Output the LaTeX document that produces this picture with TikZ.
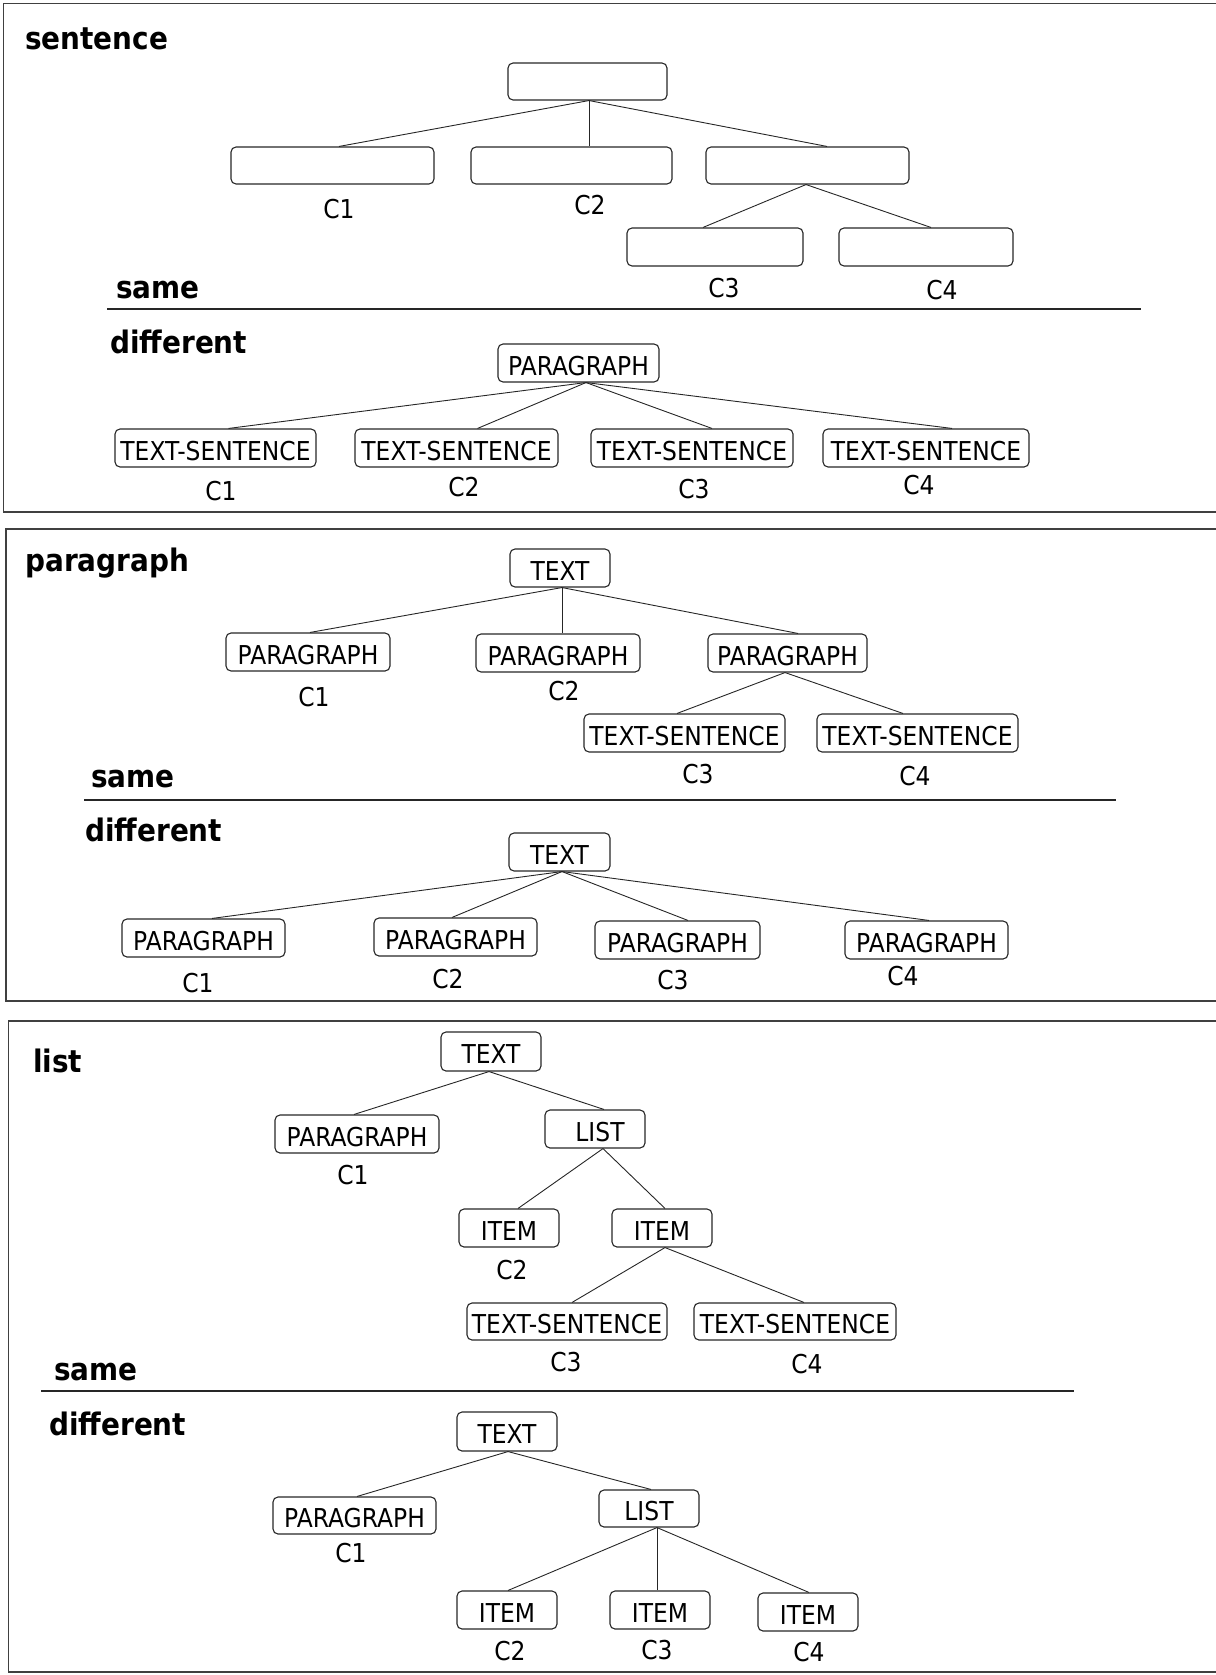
\documentclass[tikz,border=0pt]{standalone}
\usepackage{fontspec}
\setmainfont{DejaVu Sans}[FakeStretch=0.9]
\usetikzlibrary{positioning, calc}

\begin{document}
\begin{tikzpicture}[
            x=1pt, y=-1pt,
            box/.style={draw=black!85, rounded corners=5pt, line width=1.1pt, inner sep=0pt,
                        text height=24pt, text depth=0pt,
                        minimum height=38pt, font=\fontsize{26}{30}\selectfont},
            lab/.style={inner sep=0pt, font=\fontsize{26}{30}\selectfont},
            head/.style={inner sep=0pt, anchor=base west, font=\fontsize{31}{35}\selectfont\bfseries},
            link/.style={draw=black!85, line width=0.9pt},
            frame/.style={draw=black!75, line width=1.4pt},
            sep/.style={draw=black!85, line width=1.1pt}
            ]
        \useasboundingbox (0,0) rectangle (1215,1675);

        % Riquadri
        \draw[frame] (1216,3.5) -- (3.5,3.5) -- (3.5,512) -- (1216,512);
        \draw[frame] (1216,529) -- (6,529) -- (6,1001) -- (1216,1001);
        \draw[frame] (1216,1021) -- (8.5,1021) -- (8.5,1672) -- (1216,1672);

        % sentence
        \node[head] (hs) at (25,50) {sentence};
        \node[box, minimum width=159pt, minimum height=37pt] (s0) at (587.5,81.5) {};
        \node[box, minimum width=203pt, minimum height=37pt] (s1) at (332.5,165.5) {};
        \node[box, minimum width=201pt, minimum height=37pt] (s2) at (571.5,165.5) {};
        \node[box, minimum width=203pt, minimum height=37pt] (s3) at (807.5,165.5) {};
        \node[box, minimum width=176pt] (s4) at (715,247) {};
        \node[box, minimum width=174pt] (s5) at (926,247) {};
        \node[lab] (sc1) at (339,209) {C1};
        \node[lab] (sc2) at (590,205) {C2};
        \node[lab] (sc3) at (724,288) {C3};
        \node[lab] (sc4) at (942,290) {C4};
        \node[head] (hs1) at (116,298) {same};
        \coordinate (sl1) at (107,309);
        \coordinate (sl2) at (1141,309);
        \draw[sep] (sl1) -- (sl2);

        \node[head] (hs2) at (110,353) {different};
        \node[box, minimum width=161pt] (t0) at (578.5,363) {PARAGRAPH};
        \node[box, minimum width=201pt] (t1) at (215.5,448) {TEXT-SENTENCE};
        \node[box, minimum width=203pt] (t2) at (456.5,448) {TEXT-SENTENCE};
        \node[box, minimum width=202pt] (t3) at (692,448) {TEXT-SENTENCE};
        \node[box, minimum width=206pt] (t4) at (926,448) {TEXT-SENTENCE};
        \node[lab] (tc1) at (221,491) {C1};
        \node[lab] (tc2) at (464,487) {C2};
        \node[lab] (tc3) at (694,489) {C3};
        \node[lab] (tc4) at (919,485) {C4};

        % paragraph
        \node[head] (hp) at (25,571) {paragraph};
        \node[box, minimum width=100pt] (p0) at (560,568) {TEXT};
        \node[box, minimum width=164pt] (p1) at (308,652) {PARAGRAPH};
        \node[box, minimum width=164pt] (p2) at (558,653) {PARAGRAPH};
        \node[box, minimum width=159pt] (p3) at (787.5,653) {PARAGRAPH};
        \node[box, minimum width=201pt] (p4) at (684.5,733) {TEXT-SENTENCE};
        \node[box, minimum width=201pt] (p5) at (917.5,733) {TEXT-SENTENCE};
        \node[lab] (pc1) at (314,697) {C1};
        \node[lab] (pc2) at (564,691) {C2};
        \node[lab] (pc3) at (698,774) {C3};
        \node[lab] (pc4) at (915,776) {C4};
        \node[head] (hp1) at (91,787) {same};
        \coordinate (pl1) at (84,800);
        \coordinate (pl2) at (1116,800);
        \draw[sep] (pl1) -- (pl2);

        \node[head] (hp2) at (85,841) {different};
        \node[box, minimum width=101pt] (q0) at (559.5,852) {TEXT};
        \node[box, minimum width=163pt] (q1) at (203.5,938) {PARAGRAPH};
        \node[box, minimum width=163pt] (q2) at (455.5,937) {PARAGRAPH};
        \node[box, minimum width=165pt] (q3) at (677.5,940) {PARAGRAPH};
        \node[box, minimum width=163pt] (q4) at (926.5,940) {PARAGRAPH};
        \node[lab] (qc1) at (198,983) {C1};
        \node[lab] (qc2) at (448,979) {C2};
        \node[lab] (qc3) at (673,980) {C3};
        \node[lab] (qc4) at (903,976) {C4};

        % list
        \node[head] (hl) at (33,1072) {list};
        \node[box, minimum width=100pt, minimum height=39pt] (l0) at (491,1051.5) {TEXT};
        \node[box, minimum width=164pt] (l1) at (357,1134) {PARAGRAPH};
        \node[box, minimum width=100pt] (l2) at (595,1129) {\hspace{10pt}LIST};
        \node[box, minimum width=100pt] (l3) at (509,1228) {ITEM};
        \node[box, minimum width=100pt] (l4) at (662,1228) {ITEM};
        \node[box, minimum width=200pt, minimum height=37pt] (l5) at (567,1321.5) {TEXT-SENTENCE};
        \node[box, minimum width=202pt, minimum height=37pt] (l6) at (795,1321.5) {TEXT-SENTENCE};
        \node[lab] (lc1) at (353,1175) {C1};
        \node[lab] (lc2) at (512,1270) {C2};
        \node[lab] (lc3) at (566,1362) {C3};
        \node[lab] (lc4) at (807,1364) {C4};
        \node[head] (hl1) at (54,1380) {same};
        \coordinate (ll1) at (41,1391);
        \coordinate (ll2) at (1074,1391);
        \draw[sep] (ll1) -- (ll2);

        \node[head] (hl2) at (49,1435) {different};
        \node[box, minimum width=100pt, minimum height=39pt] (m0) at (507,1431.5) {TEXT};
        \node[box, minimum width=163pt, minimum height=37pt] (m1) at (354.5,1515.5) {PARAGRAPH};
        \node[box, minimum width=100pt, minimum height=37pt] (m2) at (649,1508.5) {LIST};
        \node[box, minimum width=100pt] (m3) at (507,1610) {ITEM};
        \node[box, minimum width=100pt] (m4) at (660,1610) {ITEM};
        \node[box, minimum width=100pt] (m5) at (808,1612) {ITEM};
        \node[lab] (mc1) at (351,1553) {C1};
        \node[lab] (mc2) at (510,1651) {C2};
        \node[lab] (mc3) at (657,1650) {C3};
        \node[lab] (mc4) at (809,1652) {C4};

        % Archi
        \draw[link] ([xshift=1.5pt]s0.south) -- ([xshift=6.5pt]s1.north);
        \draw[link] ([xshift=1.5pt]s0.south) -- ([xshift=17.5pt]s2.north);
        \draw[link] ([xshift=1.5pt]s0.south) -- ([xshift=19.5pt]s3.north);
        \draw[link] ([xshift=-1.5pt]s3.south) -- ([xshift=-12pt]s4.north);
        \draw[link] ([xshift=-1.5pt]s3.south) -- ([xshift=5pt]s5.north);
        \draw[link] ([xshift=7.5pt]t0.south) -- ([xshift=13pt]t1.north);
        \draw[link] ([xshift=7.5pt]t0.south) -- ([xshift=21pt]t2.north);
        \draw[link] ([xshift=7.5pt]t0.south) -- ([xshift=20pt]t3.north);
        \draw[link] ([xshift=7.5pt]t0.south) -- ([xshift=26pt]t4.north);
        \draw[link] ([xshift=2pt]p0.south) -- ([xshift=2pt]p1.north);
        \draw[link] ([xshift=2pt]p0.south) -- ([xshift=4pt]p2.north);
        \draw[link] ([xshift=2pt]p0.south) -- ([xshift=10.5pt]p3.north);
        \draw[link] ([xshift=-2.5pt]p3.south) -- ([xshift=-7.5pt]p4.north);
        \draw[link] ([xshift=-2.5pt]p3.south) -- ([xshift=-14.5pt]p5.north);
        \draw[link] ([xshift=2.5pt]q0.south) -- ([xshift=8.5pt]q1.north);
        \draw[link] ([xshift=2.5pt]q0.south) -- ([xshift=-3.5pt]q2.north);
        \draw[link] ([xshift=2.5pt]q0.south) -- ([xshift=10.5pt]q3.north);
        \draw[link] ([xshift=2.5pt]q0.south) -- ([xshift=2.5pt]q4.north);
        \draw[link] ([xshift=-2pt]l0.south) -- ([xshift=-3pt]l1.north);
        \draw[link] ([xshift=-2pt]l0.south) -- ([xshift=9pt]l2.north);
        \draw[link] ([xshift=8pt]l2.south) -- ([xshift=9pt]l3.north);
        \draw[link] ([xshift=8pt]l2.south) -- ([xshift=3pt]l4.north);
        \draw[link] ([xshift=3pt]l4.south) -- ([xshift=5pt]l5.north);
        \draw[link] ([xshift=3pt]l4.south) -- ([xshift=9pt]l6.north);
        \draw[link] ([xshift=1pt]m0.south) -- ([xshift=2.5pt]m1.north);
        \draw[link] ([xshift=1pt]m0.south) -- ([xshift=2pt]m2.north);
        \draw[link] ([xshift=8pt]m2.south) -- ([xshift=1pt]m3.north);
        \draw[link] ([xshift=8pt]m2.south) -- ([xshift=-3pt]m4.north);
        \draw[link] ([xshift=8pt]m2.south) -- ([xshift=1pt]m5.north);
\end{tikzpicture}
\end{document}
